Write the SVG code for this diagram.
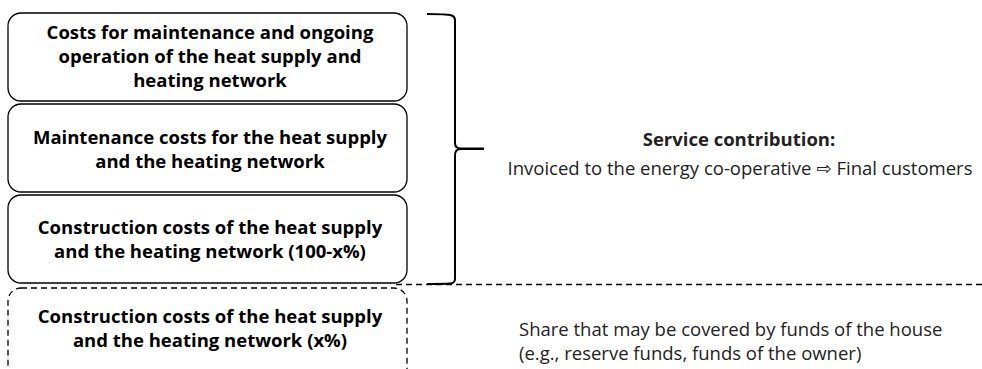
<svg xmlns="http://www.w3.org/2000/svg" width="982" height="369" viewBox="0 0 982 369">
<style>
.box{fill:#fff;stroke:#000;stroke-width:1.3}
.dbox{fill:none;stroke:#000;stroke-width:1.3;stroke-dasharray:6 4}
.bt{font-family:"Open Sans","Liberation Sans",Arial,sans-serif;font-weight:bold;font-size:18.5px;fill:#000;text-anchor:middle}
.rt{font-family:"Open Sans","Liberation Sans","DejaVu Sans",Arial,sans-serif;font-size:18.5px;fill:#222}
.line{fill:none;stroke:#000;stroke-width:2}
.dash{fill:none;stroke:#000;stroke-width:1.3;stroke-dasharray:6 4}
</style>
<rect width="982" height="369" fill="#fff"/>
<g id="node-operation">
<rect class="box" x="8" y="13" width="399" height="88" rx="13"/>
<text class="bt" x="210" y="39">Costs for maintenance and ongoing</text>
<text class="bt" x="210" y="63">operation of the heat supply and</text>
<text class="bt" x="210" y="87">heating network</text>
</g>
<g id="node-maintenance">
<rect class="box" x="8" y="104" width="399" height="88" rx="13"/>
<text class="bt" x="210" y="144">Maintenance costs for the heat supply</text>
<text class="bt" x="210" y="168">and the heating network</text>
</g>
<g id="node-construction-main">
<rect class="box" x="8" y="195" width="399" height="88" rx="13"/>
<text class="bt" x="210" y="234">Construction costs of the heat supply</text>
<text class="bt" x="210" y="258">and the heating network (100-x%)</text>
</g>
<g id="node-construction-x">
<rect class="dbox" x="8" y="288" width="399" height="100" rx="13"/>
<text class="bt" x="210" y="323">Construction costs of the heat supply</text>
<text class="bt" x="210" y="347">and the heating network (x%)</text>
</g>
<g id="connectors">
<path class="line" d="M427,14 Q446,14 452,15.5 Q455,17 455,20 V143 Q455,148 460,148.5 H484 M484,149 H460 Q455,149.5 455,155 V279 Q455,283 450,283.5 Q444,284 427,284"/>
<path class="dash" d="M396,284.5 H982"/>
</g>
<g id="label-service">
<text class="rt" x="739" y="146" text-anchor="middle" font-weight="bold" font-size="16.6px">Service contribution:</text>
<text class="rt" x="740" y="175" text-anchor="middle">Invoiced to the energy co-operative ⇨ Final customers</text>
</g>
<g id="label-share">
<text class="rt" x="519" y="336">Share that may be covered by funds of the house</text>
<text class="rt" x="519" y="360">(e.g., reserve funds, funds of the owner)</text>
</g>
</svg>
